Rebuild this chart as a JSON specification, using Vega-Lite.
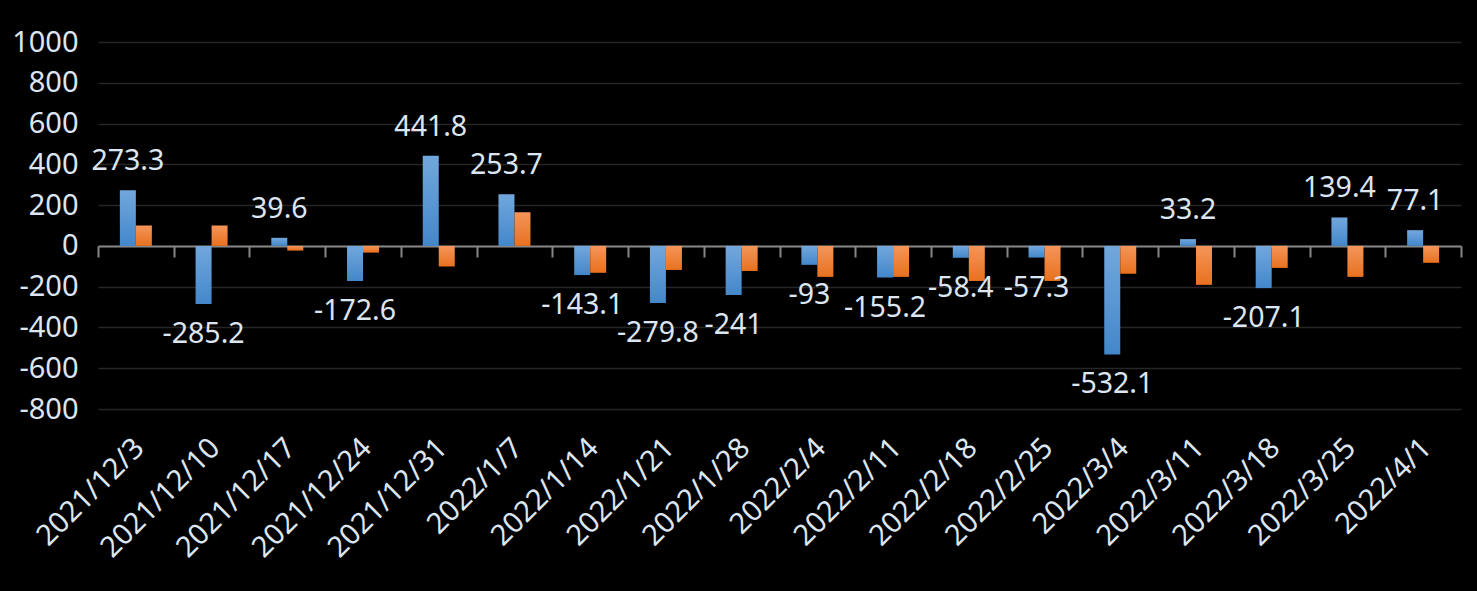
{
  "$schema": "https://vega.github.io/schema/vega-lite/v6.json",
  "autosize": {"type": "none"},
  "padding": {"left": 98, "top": 42, "right": 16, "bottom": 182},
  "width": 1363,
  "height": 367,
  "background": "#000000",
  "config": {"view": {"stroke": null}, "font": "Noto Sans"},
  "data": {
    "values": [
      {"date": "2021/12/3", "series": "系列1", "value": 273.3},
      {"date": "2021/12/10", "series": "系列1", "value": -285.2},
      {"date": "2021/12/17", "series": "系列1", "value": 39.6},
      {"date": "2021/12/24", "series": "系列1", "value": -172.6},
      {"date": "2021/12/31", "series": "系列1", "value": 441.8},
      {"date": "2022/1/7", "series": "系列1", "value": 253.7},
      {"date": "2022/1/14", "series": "系列1", "value": -143.1},
      {"date": "2022/1/21", "series": "系列1", "value": -279.8},
      {"date": "2022/1/28", "series": "系列1", "value": -241},
      {"date": "2022/2/4", "series": "系列1", "value": -93},
      {"date": "2022/2/11", "series": "系列1", "value": -155.2},
      {"date": "2022/2/18", "series": "系列1", "value": -58.4},
      {"date": "2022/2/25", "series": "系列1", "value": -57.3},
      {"date": "2022/3/4", "series": "系列1", "value": -532.1},
      {"date": "2022/3/11", "series": "系列1", "value": 33.2},
      {"date": "2022/3/18", "series": "系列1", "value": -207.1},
      {"date": "2022/3/25", "series": "系列1", "value": 139.4},
      {"date": "2022/4/1", "series": "系列1", "value": 77.1},
      {"date": "2021/12/3", "series": "系列2", "value": 100},
      {"date": "2021/12/10", "series": "系列2", "value": 100},
      {"date": "2021/12/17", "series": "系列2", "value": -23},
      {"date": "2021/12/24", "series": "系列2", "value": -33},
      {"date": "2021/12/31", "series": "系列2", "value": -101},
      {"date": "2022/1/7", "series": "系列2", "value": 165},
      {"date": "2022/1/14", "series": "系列2", "value": -132},
      {"date": "2022/1/21", "series": "系列2", "value": -118},
      {"date": "2022/1/28", "series": "系列2", "value": -123},
      {"date": "2022/2/4", "series": "系列2", "value": -152},
      {"date": "2022/2/11", "series": "系列2", "value": -152},
      {"date": "2022/2/18", "series": "系列2", "value": -172},
      {"date": "2022/2/25", "series": "系列2", "value": -172},
      {"date": "2022/3/4", "series": "系列2", "value": -137},
      {"date": "2022/3/11", "series": "系列2", "value": -191},
      {"date": "2022/3/18", "series": "系列2", "value": -108},
      {"date": "2022/3/25", "series": "系列2", "value": -152},
      {"date": "2022/4/1", "series": "系列2", "value": -83}
    ]
  },
  "encoding": {
    "x": {
      "field": "date",
      "type": "nominal",
      "sort": null,
      "scale": {"paddingInner": 0, "paddingOuter": 0},
      "axis": {
        "title": null,
        "offset": -163,
        "domainColor": "#868686",
        "domainWidth": 2,
        "ticks": true,
        "tickBand": "extent",
        "tickColor": "#868686",
        "tickWidth": 2,
        "tickSize": 11,
        "labelAngle": -45,
        "labelAlign": "right",
        "labelBaseline": "middle",
        "labelPadding": 186,
        "labelOffset": 3,
        "labelFontSize": 29,
        "labelColor": "#dce6f2",
        "labelFont": "Noto Sans",
        "grid": false
      }
    },
    "y": {
      "field": "value",
      "type": "quantitative",
      "scale": {"domain": [-800, 1000], "nice": false, "zero": false},
      "axis": {
        "title": null,
        "values": [-800, -600, -400, -200, 0, 200, 400, 600, 800, 1000],
        "labelExpr": "'' + datum.value",
        "domain": false,
        "ticks": false,
        "labelPadding": 20,
        "labelFontSize": 29,
        "labelColor": "#dce6f2",
        "labelFont": "Noto Sans",
        "grid": true,
        "gridColor": "#262626",
        "gridWidth": 1.5
      }
    }
  },
  "layer": [
    {
      "transform": [{"filter": "datum.series === '系列1'"}],
      "mark": {
        "type": "bar",
        "fill": {
          "gradient": "linear", "x1": 0, "y1": 0, "x2": 0, "y2": 1,
          "stops": [{"offset": 0, "color": "#72a7dd"}, {"offset": 1, "color": "#4387ca"}]
        }
      },
      "encoding": {
        "xOffset": {"field": "series", "type": "nominal", "scale": {"domain": ["pad1", "系列1", "系列2", "pad2"], "paddingInner": 0, "paddingOuter": 0.366}}
      }
    },
    {
      "transform": [{"filter": "datum.series === '系列2'"}],
      "mark": {
        "type": "bar",
        "fill": {
          "gradient": "linear", "x1": 0, "y1": 0, "x2": 0, "y2": 1,
          "stops": [{"offset": 0, "color": "#f4955a"}, {"offset": 1, "color": "#e8711f"}]
        }
      },
      "encoding": {
        "xOffset": {"field": "series", "type": "nominal", "scale": {"domain": ["pad1", "系列1", "系列2", "pad2"], "paddingInner": 0, "paddingOuter": 0.366}}
      }
    },
    {
      "transform": [{"filter": "datum.series === '系列1' && datum.value >= 0"}],
      "mark": {"type": "text", "baseline": "alphabetic", "dy": -20, "fontSize": 28.5, "color": "#dce6f2", "font": "Noto Sans"},
      "encoding": {
        "xOffset": {"field": "series", "type": "nominal", "scale": {"domain": ["pad1", "系列1", "系列2", "pad2"], "paddingInner": 0, "paddingOuter": 0.366}},
        "text": {"field": "value", "type": "nominal"}
      }
    },
    {
      "transform": [{"filter": "datum.series === '系列1' && datum.value < 0"}],
      "mark": {"type": "text", "baseline": "top", "dy": 16, "fontSize": 28.5, "color": "#dce6f2", "font": "Noto Sans"},
      "encoding": {
        "xOffset": {"field": "series", "type": "nominal", "scale": {"domain": ["pad1", "系列1", "系列2", "pad2"], "paddingInner": 0, "paddingOuter": 0.366}},
        "text": {"field": "value", "type": "nominal"}
      }
    }
  ]
}
